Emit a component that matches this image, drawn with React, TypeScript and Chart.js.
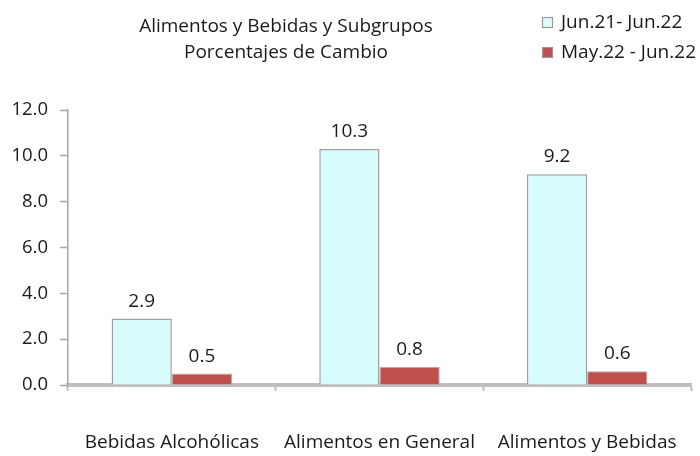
import React, { useEffect, useRef } from "react";
import { Chart, registerables } from "chart.js";

Chart.register(...registerables);

const categories = ["Bebidas Alcohólicas", "Alimentos en General", "Alimentos y Bebidas"];
const seriesNames = ["Jun.21- Jun.22", "May.22 - Jun.22"];
const annualValues = [2.9, 10.3, 9.2];
const monthlyValues = [0.5, 0.8, 0.6];
const titleLines = ["Alimentos y Bebidas y Subgrupos", "Porcentajes de Cambio"];
const yTicks = [0, 2, 4, 6, 8, 10, 12];

const FONT = "'Open Sans', 'Liberation Sans', sans-serif";
const TEXT = "#1a1a1a";

const overlayPlugin = {
  id: "overlay",
  afterDraw(chart: any) {
    const ctx = chart.ctx as CanvasRenderingContext2D;
    ctx.save();
    // value labels
    ctx.font = `19px ${FONT}`;
    ctx.fillStyle = TEXT;
    ctx.textAlign = "center";
    ctx.textBaseline = "alphabetic";
    chart.data.datasets.forEach((ds: any, di: number) => {
      const meta = chart.getDatasetMeta(di);
      meta.data.forEach((el: any, i: number) => {
        ctx.fillText(Number(ds.data[i]).toFixed(1), el.x, el.y - 12);
      });
    });
    // title
    ctx.font = `19px ${FONT}`;
    ctx.fillText(titleLines[0], 286, 32);
    ctx.fillText(titleLines[1], 286, 58);
    // legend
    const colors = [
      { fill: "#dcfdfd", stroke: "#9a9a9a" },
      { fill: "#c0504d", stroke: "#9a9a9a" },
    ];
    seriesNames.forEach((name, i) => {
      const base = i === 0 ? 28 : 58;
      const cy = base - 5.5;
      ctx.fillStyle = colors[i].fill;
      ctx.fillRect(542, cy - 5.5, 11, 11);
      ctx.strokeStyle = colors[i].stroke;
      ctx.lineWidth = 1.2;
      ctx.strokeRect(542.5, cy - 5, 10, 10);
      ctx.fillStyle = TEXT;
      ctx.textAlign = "left";
      ctx.fillText(name, 561, base);
    });
    ctx.restore();
  },
};

export default function App() {
  const ref = useRef<HTMLCanvasElement>(null);
  useEffect(() => {
    if (!ref.current) return;
    const chart = new Chart(ref.current, {
      type: "bar",
      data: {
        labels: categories,
        datasets: [
          {
            label: seriesNames[0],
            data: annualValues,
            backgroundColor: "#d8fcfc",
            borderColor: "#a0a0a0",
            borderWidth: 1.5,
            categoryPercentage: 0.58,
            barPercentage: 1,
          },
          {
            label: seriesNames[1],
            data: monthlyValues,
            backgroundColor: "#c0504d",
            borderColor: "#b8a8a8",
            borderWidth: 1,
            categoryPercentage: 0.58,
            barPercentage: 1,
          },
        ],
      },
      options: {
        animation: false,
        responsive: false,
        maintainAspectRatio: false,
        layout: { padding: { top: 110, right: 9, left: 0, bottom: 0 } },
        plugins: {
          legend: { display: false },
          title: { display: false },
          tooltip: { enabled: false },
        },
        scales: {
          x: {
            afterFit: (s: any) => {
              s.height = 71;
              s.paddingLeft = 0;
              s.paddingRight = 0;
            },
            border: { color: "#bfbfbf", width: 4 },
            grid: {
              display: true,
              offset: true,
              drawOnChartArea: false,
              drawTicks: true,
              tickLength: 6,
              tickWidth: 2,
              tickColor: "#bfbfbf",
            },
            ticks: {
              color: TEXT,
              font: { family: FONT, size: 19 },
              padding: 40,
              maxRotation: 0,
            },
          },
          y: {
            min: 0,
            max: 12,
            afterFit: (s: any) => {
              s.width = 68;
            },
            afterBuildTicks: (s: any) => {
              s.ticks = yTicks.map((v) => ({ value: v }));
            },
            border: { color: "#a6a6a6", width: 1.5 },
            grid: {
              display: true,
              drawOnChartArea: false,
              drawTicks: true,
              tickLength: 8,
              tickColor: "#a6a6a6",
              tickWidth: 1.5,
            },
            ticks: {
              color: TEXT,
              font: { family: FONT, size: 18.5 },
              padding: 12,
              callback: (v: any) => Number(v).toFixed(1),
            },
          },
        },
      },
      plugins: [overlayPlugin],
    });
    return () => chart.destroy();
  }, []);
  return (
    <div style={{ position: "fixed", left: 0, top: 0, width: 700, height: 456, background: "#fff" }}>
      <canvas ref={ref} width={700} height={456} style={{ width: 700, height: 456 }} />
    </div>
  );
}
